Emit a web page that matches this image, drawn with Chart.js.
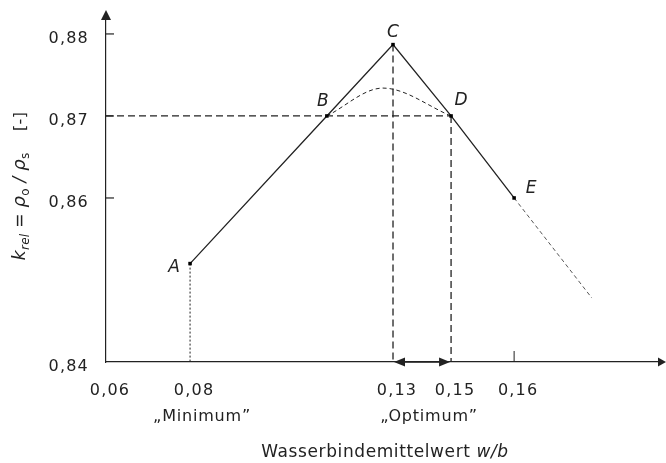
<!DOCTYPE html>
<html>
<head>
<meta charset="utf-8">
<script src="https://cdn.jsdelivr.net/npm/chart.js@4.4.1/dist/chart.umd.min.js"></script>
<style>
  html, body { margin: 0; background: #fff; }
  #wrap { width: 666px; height: 463px; }
</style>
</head>
<body>
<div id="wrap"><canvas id="kChart" width="666" height="463"></canvas></div>
<script>
// axis ticks
const xTicks = [0.06, 0.08, 0.13, 0.15, 0.16];
const yTicks = [0.84, 0.86, 0.87, 0.88];

// characteristic points A..E
const pointNames = ['A', 'B', 'C', 'D', 'E'];
const pointX = [0.08, 0.1137, 0.13, 0.15, 0.16];
const pointY = [0.852, 0.87, 0.8787, 0.87, 0.86];

// smoothed (real) curve between B and D
const curveX = [0.1137, 0.1275, 0.15];
const curveY = [0.87, 0.8734, 0.87];

// continuation beyond E
const trendX = [0.16, 0.1761];
const trendY = [0.86, 0.8478];

const kRef = 0.87;
const optimumRange = [0.13, 0.15];
const minimumAt = 0.08;

// the w/b axis is drawn schematically: each tick value sits at a fixed
// fraction of the axis length, values in between are interpolated
const axisStops = [0.06, 0.08, 0.13, 0.15, 0.16, 0.19];
const axisFractions = [0, 0.152, 0.519, 0.624, 0.738, 1];

const INK = '#222';
const FONT = '"DejaVu Sans", sans-serif';
const fmt = v => v.toFixed(2).replace('.', ',');
const pts = (xs, ys) => xs.map((x, i) => ({ x: x, y: ys[i] }));
const yMin = yTicks[0];

// label offsets for the point letters (pixels)
const letterOffset = { A: [-16, 4], B: [-4, -14], C: [0, -12], D: [10, -15], E: [17, -9] };

class SchematicScale extends Chart.LinearScale {
    getPixelForValue(value) {
        let i = 1;
        while (i < axisStops.length - 1 && value > axisStops[i]) i++;
        const t = (value - axisStops[i - 1]) / (axisStops[i] - axisStops[i - 1]);
        const f = axisFractions[i - 1] + t * (axisFractions[i] - axisFractions[i - 1]);
        return this.getPixelForDecimal(f);
    }
    getValueForPixel(pixel) {
        const f = this.getDecimalForPixel(pixel);
        let i = 1;
        while (i < axisFractions.length - 1 && f > axisFractions[i]) i++;
        const t = (f - axisFractions[i - 1]) / (axisFractions[i] - axisFractions[i - 1]);
        return axisStops[i - 1] + t * (axisStops[i] - axisStops[i - 1]);
    }
}
SchematicScale.id = 'schematic';
SchematicScale.defaults = Chart.LinearScale.defaults;
Chart.register(SchematicScale);

function dropLine(i, dash, width) {
    return {
        data: [{ x: pointX[i], y: pointY[i] }, { x: pointX[i], y: yMin }],
        borderColor: INK, borderWidth: width, borderDash: dash,
        pointRadius: 0, fill: false
    };
}

const datasets = [
    {
        // main polyline A-B-C-D-E
        data: pts(pointX, pointY),
        borderColor: INK, borderWidth: 1.3,
        pointStyle: 'rect', pointRadius: 2.5,
        pointBackgroundColor: '#000', pointBorderColor: '#000', pointBorderWidth: 0,
        fill: false
    },
    {
        data: pts(curveX, curveY),
        borderColor: INK, borderWidth: 1, borderDash: [4, 3],
        cubicInterpolationMode: 'monotone', pointRadius: 0, fill: false
    },
    {
        data: pts(trendX, trendY),
        borderColor: '#444', borderWidth: 0.9, borderDash: [4, 3],
        pointRadius: 0, fill: false
    },
    {
        // horizontal reference at k = 0,87
        data: [{ x: xTicks[0], y: kRef }, { x: pointX[3], y: kRef }],
        borderColor: INK, borderWidth: 1.3, borderDash: [7, 4],
        pointRadius: 0, fill: false
    },
    dropLine(0, [2, 2], 1),
    dropLine(2, [7, 4], 1.3),
    dropLine(3, [7, 4], 1.3)
];

function arrowHead(ctx, tipX, tipY, dx, dy, len, half) {
    // dx, dy: unit direction of the arrow
    const bx = tipX - dx * len, by = tipY - dy * len;
    ctx.beginPath();
    ctx.moveTo(tipX, tipY);
    ctx.lineTo(bx - dy * half, by + dx * half);
    ctx.lineTo(bx + dy * half, by - dx * half);
    ctx.closePath();
    ctx.fill();
}

function drawRich(ctx, parts, cx, baseline) {
    let total = 0;
    parts.forEach(p => {
        ctx.font = (p.italic ? 'italic ' : '') + p.size + 'px ' + FONT;
        p.w = ctx.measureText(p.t).width;
        total += p.w;
    });
    let x = cx - total / 2;
    parts.forEach(p => {
        ctx.font = (p.italic ? 'italic ' : '') + p.size + 'px ' + FONT;
        ctx.fillText(p.t, x, baseline + (p.dy || 0));
        x += p.w;
    });
}

// wider tracking for the tick labels
const spacing = {
    id: 'spacing',
    beforeDraw(chart) { chart.ctx.letterSpacing = '1.2px'; },
    afterDatasetsDraw(chart) { chart.ctx.letterSpacing = '0px'; }
};

const decor = {
    id: 'decor',
    afterDraw(chart) {
        const ctx = chart.ctx;
        const xs = chart.scales.x, ys = chart.scales.y;
        const area = chart.chartArea;
        ctx.save();
        ctx.fillStyle = INK;
        ctx.strokeStyle = INK;
        ctx.lineWidth = 1.2;

        // axis arrows
        arrowHead(ctx, area.left, area.top - 10, 0, -1, 10, 5);
        arrowHead(ctx, area.right + 7, area.bottom, 1, 0, 8, 4.5);

        // small tick marks on the y axis
        yTicks.slice(1).forEach(v => {
            const y = ys.getPixelForValue(v);
            ctx.beginPath();
            ctx.moveTo(area.left, y);
            ctx.lineTo(area.left + 8, y);
            ctx.stroke();
        });
        // tick at 0,16
        const x16 = xs.getPixelForValue(xTicks[4]);
        ctx.beginPath();
        ctx.moveTo(x16, area.bottom - 11);
        ctx.lineTo(x16, area.bottom);
        ctx.lineWidth = 1;
        ctx.stroke();

        // optimum range arrow
        const o1 = xs.getPixelForValue(optimumRange[0]);
        const o2 = xs.getPixelForValue(optimumRange[1]);
        const yb = area.bottom;
        ctx.lineWidth = 1.6;
        ctx.beginPath();
        ctx.moveTo(o1 + 4, yb);
        ctx.lineTo(o2 - 4, yb);
        ctx.stroke();
        arrowHead(ctx, o1 + 1, yb, -1, 0, 11, 4.5);
        arrowHead(ctx, o2 - 1, yb, 1, 0, 11, 4.5);

        // point letters
        const meta = chart.getDatasetMeta(0);
        ctx.font = 'italic 17px ' + FONT;
        ctx.textAlign = 'center';
        ctx.textBaseline = 'middle';
        meta.data.forEach((el, i) => {
            const off = letterOffset[pointNames[i]];
            ctx.fillText(pointNames[i], el.x + off[0], el.y + off[1]);
        });

        // range captions under the axis
        ctx.font = '16px ' + FONT;
        ctx.textBaseline = 'alphabetic';
        ctx.letterSpacing = '0.8px';
        ctx.fillText('\u201EMinimum\u201D', xs.getPixelForValue(minimumAt) + 12, 421);
        ctx.fillText('\u201EOptimum\u201D', (o1 + o2) / 2 + 7, 421);

        // x axis title
        ctx.textAlign = 'left';
        ctx.letterSpacing = '0.6px';
        drawRich(ctx, [
            { t: 'Wasserbindemittelwert ', size: 17 },
            { t: 'w/b', size: 17, italic: true }
        ], 385, 457);

        // y axis title, rotated
        ctx.save();
        ctx.translate(25, 186);
        ctx.rotate(-Math.PI / 2);
        ctx.letterSpacing = '0.3px';
        drawRich(ctx, [
            { t: 'k', size: 17, italic: true },
            { t: 'rel', size: 12, italic: true, dy: 4 },
            { t: ' = ', size: 17 },
            { t: '\u03C1', size: 18, italic: true },
            { t: 'o', size: 12, dy: 4 },
            { t: ' / ', size: 17, italic: true },
            { t: '\u03C1', size: 18, italic: true },
            { t: 's', size: 12, dy: 4 },
            { t: '    [-]', size: 16 }
        ], 0, 0);
        ctx.restore();

        ctx.restore();
    }
};

new Chart(document.getElementById('kChart'), {
    type: 'line',
    data: { datasets: datasets },
    plugins: [spacing, decor],
    options: {
        responsive: false,
        devicePixelRatio: 1,
        animation: false,
        layout: { padding: { top: 20, right: 7, left: 0, bottom: 0 } },
        plugins: { legend: { display: false }, tooltip: { enabled: false } },
        scales: {
            x: {
                type: 'schematic',
                min: axisStops[0],
                max: axisStops[axisStops.length - 1],
                afterFit: s => { s.height = 101; s.paddingLeft = 0; s.paddingRight = 0; },
                afterBuildTicks: s => { s.ticks = xTicks.map(v => ({ value: v })); },
                grid: { display: false, drawTicks: false },
                border: { display: true, color: INK, width: 1.2 },
                ticks: {
                    color: INK, padding: 19, labelOffset: 4, maxRotation: 0, autoSkip: false,
                    font: { family: FONT, size: 16 },
                    callback: v => fmt(v)
                }
            },
            y: {
                type: 'linear',
                min: 0.84,
                max: 0.8817,
                afterFit: s => { s.width = 106; s.paddingTop = 0; s.paddingBottom = 0; },
                afterBuildTicks: s => { s.ticks = yTicks.map(v => ({ value: v })); },
                grid: { display: false, drawTicks: false },
                border: { display: true, color: INK, width: 1.2 },
                ticks: {
                    color: INK, padding: 17, labelOffset: 5,
                    font: { family: FONT, size: 16 },
                    callback: v => fmt(v)
                }
            }
        }
    }
});
</script>
</body>
</html>
